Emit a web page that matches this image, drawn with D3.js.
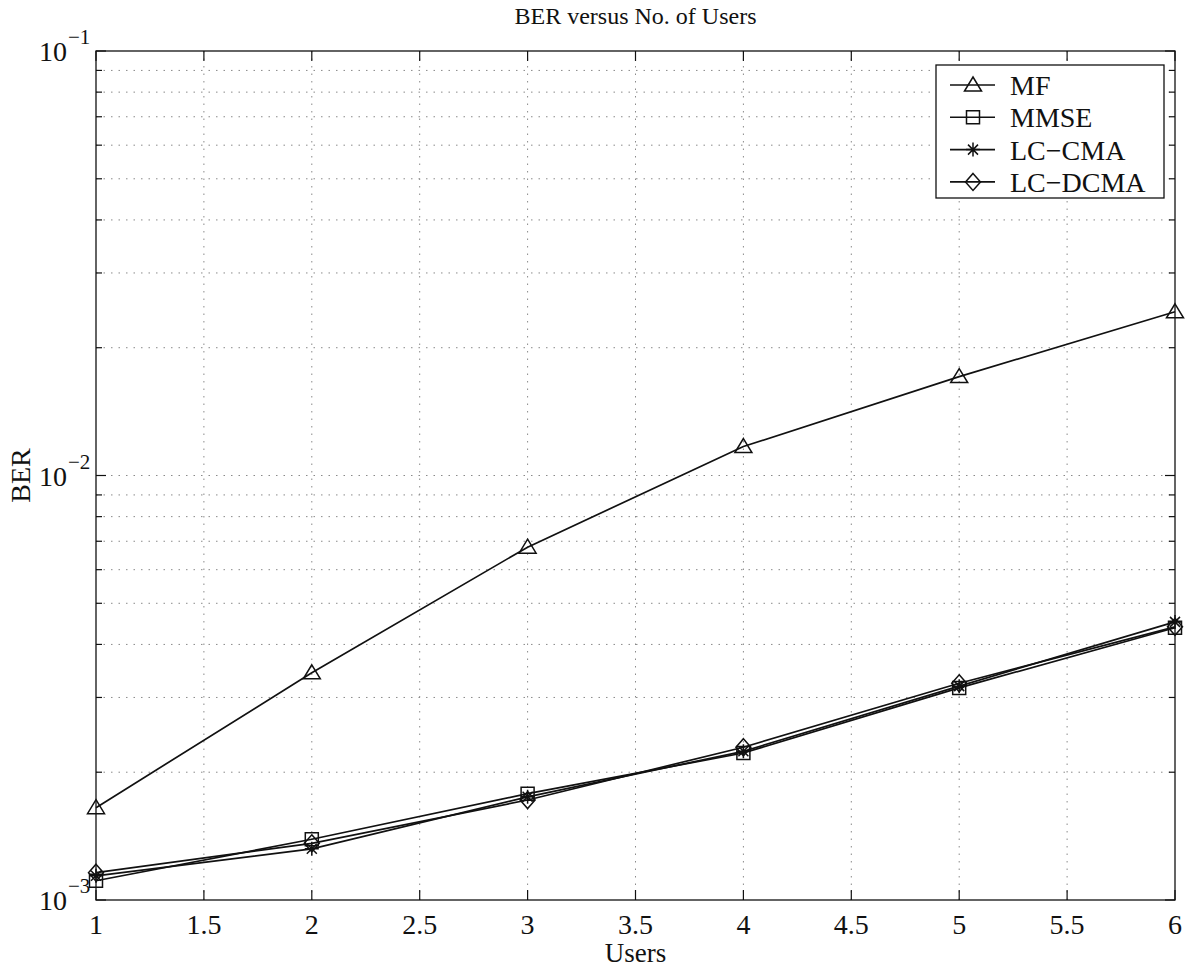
<!DOCTYPE html>
<html>
<head>
<meta charset="utf-8">
<script src="https://cdn.jsdelivr.net/npm/d3@7"></script>
<style>
  html, body { margin: 0; padding: 0; background: #fff; }
  svg { display: block; }
  svg text { font-family: "Liberation Serif", "Times New Roman", "DejaVu Serif", serif; fill: #111; }
</style>
</head>
<body>
<svg id="chart" width="1190" height="969"></svg>
<script>
// ---- data ----
const users = [1, 2, 3, 4, 5, 6];
const berMF     = [1.65e-3, 3.43e-3, 6.78e-3, 1.17e-2, 1.71e-2, 2.43e-2];
const berMMSE   = [1.11e-3, 1.39e-3, 1.78e-3, 2.22e-3, 3.16e-3, 4.38e-3];
const berLCCMA  = [1.14e-3, 1.32e-3, 1.75e-3, 2.24e-3, 3.19e-3, 4.52e-3];
const berLCDCMA = [1.16e-3, 1.36e-3, 1.72e-3, 2.29e-3, 3.24e-3, 4.40e-3];
const seriesNames = ["MF", "MMSE", "LC\u2212CMA", "LC\u2212DCMA"];
const seriesMarkers = ["triangle", "square", "star", "diamond"];
const xTicks = [1, 1.5, 2, 2.5, 3, 3.5, 4, 4.5, 5, 5.5, 6];
const xTickLabels = ["1", "1.5", "2", "2.5", "3", "3.5", "4", "4.5", "5", "5.5", "6"];
const yMajorTicks = [1e-3, 1e-2, 1e-1];
const yMajorExps = ["\u22123", "\u22122", "\u22121"];
const titleText = "BER versus No. of Users";
const xLabelText = "Users";
const yLabelText = "BER";

// ---- layout ----
const FONT = "'Liberation Serif', 'Times New Roman', serif";
const L = 96, R = 1175, T = 51, B = 900;
const svg = d3.select("#chart");
const x = d3.scaleLinear().domain([1, 6]).range([L, R]);
const y = d3.scaleLog().domain([1e-3, 1e-1]).range([B, T]);

const yMinor = [];
for (let d = -3; d < -1; d++) for (let k = 2; k <= 9; k++) yMinor.push(k * Math.pow(10, d));

// ---- grid ----
const grid = svg.append("g").attr("stroke", "#8a8a8a").attr("stroke-width", 1)
  .attr("stroke-dasharray", "1.5,6");
grid.selectAll(".gx").data(xTicks.slice(1, -1)).join("line")
  .attr("x1", d => x(d)).attr("x2", d => x(d)).attr("y1", T).attr("y2", B);
grid.selectAll(".gy").data(yMinor.concat([1e-2])).join("line")
  .attr("y1", d => y(d)).attr("y2", d => y(d)).attr("x1", L).attr("x2", R);

// ---- ticks (inward, all four sides) ----
const tk = svg.append("g").attr("stroke", "#111").attr("stroke-width", 1.2);
xTicks.forEach(v => {
  tk.append("line").attr("x1", x(v)).attr("x2", x(v)).attr("y1", B).attr("y2", B - 10);
  tk.append("line").attr("x1", x(v)).attr("x2", x(v)).attr("y1", T).attr("y2", T + 10);
});
yMajorTicks.forEach(v => {
  tk.append("line").attr("y1", y(v)).attr("y2", y(v)).attr("x1", L).attr("x2", L + 10);
  tk.append("line").attr("y1", y(v)).attr("y2", y(v)).attr("x1", R).attr("x2", R - 10);
});
yMinor.forEach(v => {
  tk.append("line").attr("y1", y(v)).attr("y2", y(v)).attr("x1", L).attr("x2", L + 6);
  tk.append("line").attr("y1", y(v)).attr("y2", y(v)).attr("x1", R).attr("x2", R - 6);
});

// frame
svg.append("rect").attr("x", L).attr("y", T).attr("width", R - L).attr("height", B - T)
  .attr("fill", "none").attr("stroke", "#111").attr("stroke-width", 1.3);

// ---- tick labels ----
svg.append("g").selectAll("text").data(xTicks).join("text")
  .attr("x", d => x(d)).attr("y", B + 34)
  .attr("text-anchor", "middle").attr("font-size", 28).attr("font-family", FONT)
  .text((d, i) => xTickLabels[i]);

const yl = svg.append("g");
yMajorTicks.forEach((v, i) => {
  yl.append("text").attr("x", 67).attr("y", y(v) + 10)
    .attr("text-anchor", "end").attr("font-size", 28).attr("font-family", FONT).text("10");
  yl.append("text").attr("x", 68).attr("y", y(v) - 7)
    .attr("font-size", 21).attr("font-family", FONT).text(yMajorExps[i]);
});

// ---- titles ----
svg.append("text").attr("x", (L + R) / 2).attr("y", 24).attr("text-anchor", "middle")
  .attr("font-size", 24).attr("font-family", FONT).text(titleText);
svg.append("text").attr("x", (L + R) / 2).attr("y", 962).attr("text-anchor", "middle")
  .attr("font-size", 27).attr("font-family", FONT).text(xLabelText);
svg.append("text").attr("transform", `translate(30, ${(T + B) / 2}) rotate(-90)`)
  .attr("text-anchor", "middle").attr("font-size", 28).attr("font-family", FONT).text(yLabelText);

// ---- markers ----
function markerPath(type) {
  switch (type) {
    case "triangle": return "M0,-8L8.5,6L-8.5,6Z";
    case "square": return "M-6.5,-6.5H6.5V6.5H-6.5Z";
    case "diamond": return "M0,-8.5L7.5,0L0,8.5L-7.5,0Z";
    case "star": return "M-7,0H7M0,-7V7M-5,-5L5,5M-5,5L5,-5";
  }
}

const allSeries = [berMF, berMMSE, berLCCMA, berLCDCMA];
const line = d3.line().x((d, i) => x(users[i])).y(d => y(d));

allSeries.forEach((vals, si) => {
  const g = svg.append("g");
  g.append("path").datum(vals).attr("d", line)
    .attr("fill", "none").attr("stroke", "#111").attr("stroke-width", 1.7);
  g.selectAll("path.m").data(vals).join("path").attr("class", "m")
    .attr("transform", (d, i) => `translate(${x(users[i])},${y(d)})`)
    .attr("d", markerPath(seriesMarkers[si]))
    .attr("fill", "none").attr("stroke", "#111").attr("stroke-width", 1.5);
});

// ---- legend ----
const lg = svg.append("g");
lg.append("rect").attr("x", 936).attr("y", 65).attr("width", 228).attr("height", 133)
  .attr("fill", "#fff").attr("stroke", "#111").attr("stroke-width", 1.3);
seriesNames.forEach((name, i) => {
  const cy = 85 + i * 32.3;
  lg.append("line").attr("x1", 950).attr("x2", 995).attr("y1", cy).attr("y2", cy)
    .attr("stroke", "#111").attr("stroke-width", 1.6);
  lg.append("path").attr("transform", `translate(973,${cy})`).attr("d", markerPath(seriesMarkers[i]))
    .attr("fill", "none").attr("stroke", "#111").attr("stroke-width", 1.5);
  lg.append("text").attr("x", 1010).attr("y", cy + 10).attr("font-size", 28)
    .attr("font-family", FONT).text(name);
});
</script>
</body>
</html>
